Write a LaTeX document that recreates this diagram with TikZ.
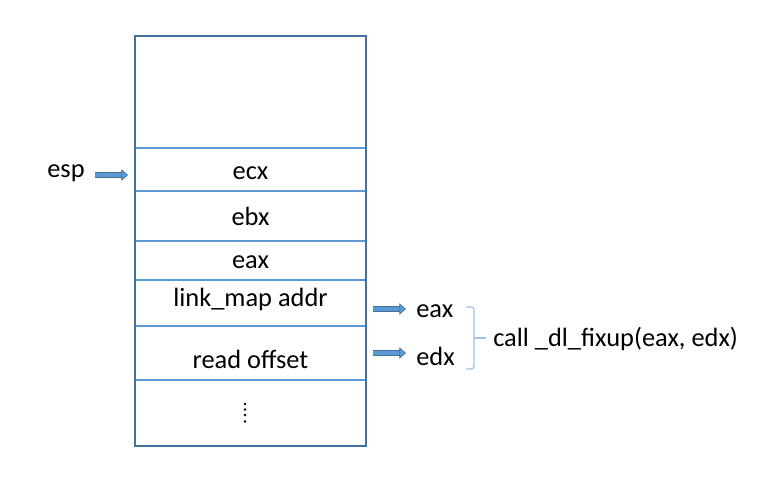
\documentclass[tikz,border=0pt]{standalone}
\usepackage{fontspec}
\setmainfont{Carlito}
\usetikzlibrary{arrows.meta}
\usetikzlibrary{positioning}
\definecolor{stackedge}{RGB}{65, 113, 156}
\definecolor{stackline}{RGB}{91, 155, 213}
\definecolor{bracecol}{RGB}{157, 195, 230}
\tikzset{
  lbl/.style={inner sep=0pt, font=\fontsize{19.8}{23}\selectfont},
  blockarrow/.style={draw=stackedge, double=stackline, double distance=3.6pt, line width=0.5pt,
                     -{Triangle[length=5pt, width=8.5pt, fill=stackline, color=stackedge, line width=0.5pt]}},
}
\begin{document}
\begin{tikzpicture}[x=0.75pt, y=-0.75pt]
            \useasboundingbox (0,0) rectangle (760,486);
            % stack rows
            \foreach \yy in {148, 191, 241, 280, 326, 380}
                \draw[stackline, line width=0.8pt] (135,\yy) -- (366,\yy);
            \draw[stackedge, line width=1pt] (135,36) rectangle (366,446);
            % row contents
            \node[lbl] (ecx)     at (250.5,173) {ecx};
            \node[lbl] (ebx)     at (250.5,216) {ebx};
            \node[lbl] (eaxrow)  at (250.5,262) {eax};
            \node[lbl] (linkmap) at (250.5,299) {link\_map addr};
            \node[lbl] (offset)  at (250.5,359) {read offset};
            \foreach \yy in {404, 409.5, 415, 421.5}
                \fill[black] (245,\yy) circle (1.3);
            % registers
            \node[lbl] (esp) at (66,173) {esp};
            \node[lbl, anchor=west] (eax) at (416,311) {eax};
            \node[lbl, anchor=west] (edx) at (416,356) {edx};
            \coordinate (espfrom) at (95,175);
            \coordinate (espto)   at (128,175);
            \coordinate (eaxfrom) at (373,309);
            \coordinate (eaxto)   at (406,309);
            \coordinate (edxfrom) at (373,353);
            \coordinate (edxto)   at (406,353);
            \draw[blockarrow] (espfrom) -- (espto);
            \draw[blockarrow] (eaxfrom) -- (eaxto);
            \draw[blockarrow] (edxfrom) -- (edxto);
            % brace and call
            \draw[bracecol, line width=1pt, rounded corners=2pt] (466,307) -- (474,307) -- (474,369) -- (466,369);
            \coordinate (bracemid) at (474,338);
            \node[lbl, anchor=west] (call) at (493,339) {call \_dl\_fixup(eax, edx)};
            \draw[bracecol, line width=1pt] (bracemid) -- (486,338);
\end{tikzpicture}
\end{document}
